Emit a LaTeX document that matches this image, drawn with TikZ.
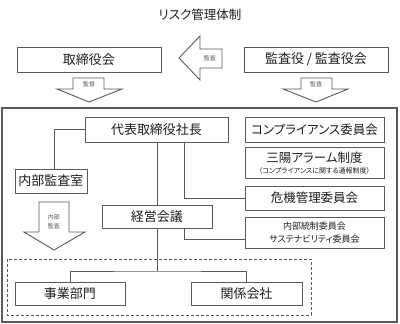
\documentclass[tikz,border=0pt]{standalone}
\usepackage{fontspec}
\newfontfamily\jp[RawFeature=+palt]{Noto Sans CJK JP}
\definecolor{ln}{HTML}{5A5A5A}
\definecolor{tx}{HTML}{1E1E1E}
\begin{document}
\begin{tikzpicture}[x=1pt,y=-1pt,
  box/.style={draw=ln,line width=1pt,fill=white,text=tx,inner sep=0pt,align=center,font=\jp\fontsize{13}{15}\selectfont},
  conn/.style={draw=ln,line width=1pt},
  blockarrow/.style={draw=ln,line width=0.9pt,fill=white,line join=miter},
  small/.style={text=ln,inner sep=0pt,font=\jp\fontsize{6}{7}\selectfont}]
\useasboundingbox (0,0) rectangle (400,324);
% title
\node[text=tx,font=\jp\fontsize{12.5}{14}\selectfont] (title) at (200,15) {リスク管理体制};
% top boxes
\node[box,minimum width=144,minimum height=25] (tori) at (89,59.5) {取締役会};
\node[box,minimum width=144,minimum height=25] (kansa) at (316,59.5) {監査役 / 監査役会};
% left arrow
\draw[blockarrow] (179,58) -- (200,36) -- (200,49) -- (222,49) -- (222,68) -- (200,68) -- (200,80) -- cycle;
\node[small] (lbl1) at (210,58.5) {監査};
% down arrows
\draw[blockarrow] (73,78) -- (104,78) -- (104,89) -- (122,89) -- (89,102) -- (57,89) -- (73,89) -- cycle;
\node[small] (lbl2) at (89,84) {監督};
\draw[blockarrow] (301,78) -- (332,78) -- (332,89) -- (348,89) -- (316,102) -- (283,89) -- (301,89) -- cycle;
\node[small] (lbl3) at (316,84) {監査};
% outer frame
\draw[draw=ln,line width=1.1pt] (2,108) rectangle (397,322);
% dashed group
\draw[draw=ln,line width=0.9pt,dash pattern=on 3pt off 2pt] (7,259) rectangle (311,315);
% inner boxes
\node[box,minimum width=143,minimum height=25] (shacho) at (156.5,129.5) {代表取締役社長};
\node[box,minimum width=139,minimum height=25,font=\jp\fontsize{12.5}{14}\selectfont] (compl) at (314.5,129.5) {コンプライアンス委員会};
\node[box,minimum width=139,minimum height=31] (alarm) at (314.5,162.5) {};
\node[text=tx,inner sep=0pt,font=\jp\fontsize{12.5}{14}\selectfont] (alarmt) at (314.5,157.5) {三陽アラーム制度};
\node[text=tx,inner sep=0pt,font=\jp\fontsize{7}{8}\selectfont] (alarms) at (314.5,171) {（コンプライアンスに関する通報制度）};
\node[box,minimum width=139,minimum height=24,font=\jp\fontsize{12.5}{14}\selectfont] (kiki) at (314.5,198) {危機管理委員会};
\node[box,minimum width=139,minimum height=31,font=\jp\fontsize{9}{13}\selectfont] (naibu) at (314.5,232.5) {内部統制委員会\\サステナビリティ委員会};
\node[box,minimum width=72,minimum height=24] (nkansa) at (51,181) {内部監査室};
\node[box,minimum width=110,minimum height=23] (keiei) at (157,216.5) {経営会議};
\node[box,minimum width=110,minimum height=23] (jigyo) at (70,293.5) {事業部門};
\node[box,minimum width=111,minimum height=23] (kankei) at (246.5,293.5) {関係会社};
% internal audit arrow
\draw[blockarrow] (39,202) -- (69,202) -- (69,232) -- (85,232) -- (54,250) -- (24,232) -- (39,232) -- cycle;
\node[small] (lbl4) at (54,217) {内部};
\node[small] (lbl5) at (54,226) {監査};
% connectors
\draw[conn] (shacho.west) -| ([xshift=3pt]nkansa.north);
\draw[conn] (keiei.north |- shacho.south) -- (keiei.north);
\draw[conn] ([xshift=27.5pt]shacho.south) |- (kiki.west);
\draw[conn] ([xshift=27pt]keiei.south) |- ([yshift=-6.5pt]naibu.west);
\coordinate (br) at (157,271);
\draw[conn] (keiei.south) -- (br);
\draw[conn] (jigyo.north) |- (br) -| (kankei.north);
\end{tikzpicture}
\end{document}
